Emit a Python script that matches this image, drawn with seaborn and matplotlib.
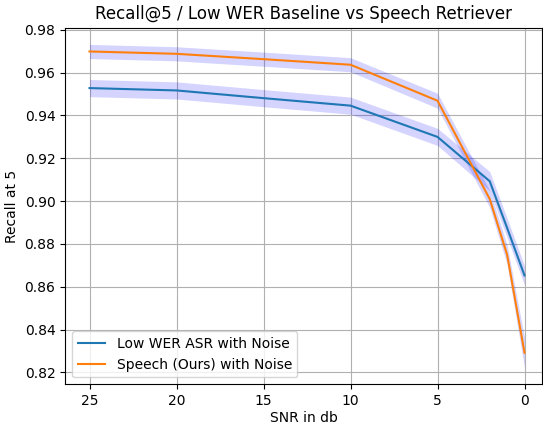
import pandas as pd
import numpy as np
import seaborn as sns
import matplotlib.pyplot as plt

# values
snr = [25, 20, 15, 10, 5, 2, 1, 0]
low_wer = [0.9528, 0.9517, 0.9481, 0.9446, 0.9300, 0.9093, 0.8875, 0.8653]
speech = [0.9699, 0.9688, 0.9663, 0.9637, 0.9469, 0.9010, 0.8750, 0.8292]
low_wer_err = [0.0040, 0.0040, 0.0040, 0.0040, 0.0040, 0.0045, 0.0045, 0.0045]
speech_err = [0.0033, 0.0033, 0.0033, 0.0033, 0.0035, 0.0040, 0.0045, 0.0070]
labels = ["Low WER ASR with Noise", "Speech (Ours) with Noise"]

df = pd.DataFrame({
    "snr": snr * 2,
    "recall": low_wer + speech,
    "series": [labels[0]] * len(snr) + [labels[1]] * len(snr),
})

fig, ax = plt.subplots(figsize=(5.43, 4.26), dpi=100)

sns.lineplot(data=df, x="snr", y="recall", hue="series", hue_order=labels,
             palette=sns.color_palette("tab10")[:2], linewidth=1.5, ax=ax)

# shaded bands
for vals, err in [(low_wer, low_wer_err), (speech, speech_err)]:
    v = np.array(vals)
    e = np.array(err)
    ax.fill_between(snr, v - e, v + e, color="blue", alpha=0.17, linewidth=0)

ax.set_xlim(26.4, -1.0)
ax.set_ylim(0.8145, 0.981)
ax.set_xticks([25, 20, 15, 10, 5, 0])
ax.set_yticks(np.arange(0.82, 0.981, 0.02))
ax.grid(True, color="#b0b0b0", linewidth=0.8)
ax.set_axisbelow(True)

ax.set_title("Recall@5 / Low WER Baseline vs Speech Retriever")
ax.set_xlabel("SNR in db", labelpad=2)
ax.set_ylabel("Recall at 5")
ax.legend(loc="lower left")

plt.subplots_adjust(left=0.12, right=0.998, top=0.935, bottom=0.098)
plt.savefig("out.png")
plt.close()
